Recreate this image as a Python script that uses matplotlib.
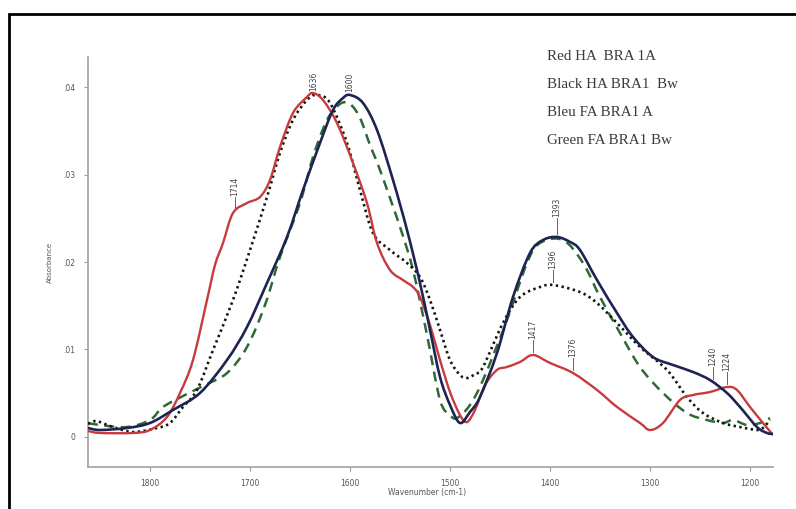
import numpy as np
import matplotlib
matplotlib.use("Agg")
import matplotlib.pyplot as plt
from matplotlib.patches import Rectangle, PathPatch
from matplotlib.path import Path

# ---------------- data (wavenumber cm-1, absorbance) ----------------
red_wn = [1862, 1850, 1817, 1800, 1783, 1770, 1757, 1743, 1735, 1727, 1717, 1703, 1690, 1680,
          1670, 1657, 1643, 1637, 1627, 1613, 1597, 1583, 1573, 1560, 1547, 1537, 1530, 1520,
          1510, 1500, 1490, 1483, 1475, 1465, 1453, 1443, 1430, 1417, 1400, 1377, 1353, 1333,
          1310, 1300, 1287, 1270, 1257, 1240, 1223, 1213, 1200, 1187, 1177]
red_ab = [0.00069, 0.00046, 0.00046, 0.0008, 0.00229, 0.00503, 0.0088, 0.01566, 0.01966, 0.02217,
          0.0256, 0.02674, 0.02743, 0.02937, 0.03314, 0.03703, 0.03886, 0.03931, 0.03851, 0.03589,
          0.03131, 0.02674, 0.02217, 0.01909, 0.01794, 0.01714, 0.016, 0.0128, 0.0088, 0.00514,
          0.00251, 0.00171, 0.00309, 0.00594, 0.00766, 0.008, 0.00857, 0.00937, 0.00846, 0.00731,
          0.00537, 0.00343, 0.0016, 0.0008, 0.0016, 0.00423, 0.0048, 0.00514, 0.00571, 0.00537,
          0.00343, 0.0016, 0.00023]

blue_wn = [1862, 1850, 1823, 1800, 1777, 1750, 1723, 1703, 1683, 1663, 1647, 1630, 1617, 1607,
           1600, 1587, 1573, 1557, 1543, 1530, 1520, 1510, 1500, 1490, 1480, 1470, 1453, 1437,
           1420, 1407, 1393, 1380, 1370, 1353, 1333, 1317, 1297, 1277, 1257, 1240, 1223, 1210,
           1193, 1183, 1177]
blue_ab = [0.00103, 0.0008, 0.00103, 0.0016, 0.00309, 0.00503, 0.0088, 0.01257, 0.0176, 0.02286,
           0.02823, 0.0336, 0.03737, 0.03874, 0.03909, 0.03817, 0.03509, 0.02937, 0.02366, 0.0176,
           0.01223, 0.00686, 0.00366, 0.0016, 0.00286, 0.00457, 0.0096, 0.016, 0.02103, 0.02251,
           0.02286, 0.02229, 0.02137, 0.01794, 0.01417, 0.01143, 0.00914, 0.00823, 0.00743,
           0.00651, 0.00503, 0.00343, 0.00114, 0.00046, 0.00034]

black_wn = [1862, 1855, 1850, 1837, 1817, 1793, 1780, 1767, 1753, 1737, 1717, 1700, 1683, 1670,
            1657, 1643, 1633, 1620, 1603, 1590, 1577, 1560, 1543, 1530, 1520, 1510, 1500, 1490,
            1483, 1475, 1467, 1447, 1430, 1410, 1397, 1370, 1353, 1333, 1310, 1283, 1263, 1247,
            1227, 1210, 1193, 1187, 1180]
black_ab = [0.00149, 0.00183, 0.00171, 0.00114, 0.00057, 0.00103, 0.0016, 0.00343, 0.00537,
            0.00994, 0.01566, 0.02137, 0.02743, 0.03246, 0.03623, 0.03851, 0.03909, 0.03817,
            0.0336, 0.02823, 0.02331, 0.02137, 0.01989, 0.01829, 0.01566, 0.01223, 0.0088,
            0.00709, 0.00674, 0.0072, 0.008, 0.01303, 0.016, 0.01714, 0.01737, 0.01657, 0.01531,
            0.01303, 0.01029, 0.00766, 0.00457, 0.00274, 0.0016, 0.00114, 0.0008, 0.00103, 0.00194]

green_wn = [1862, 1850, 1823, 1800, 1787, 1765, 1745, 1723, 1703, 1685, 1670, 1650, 1637, 1623,
            1610, 1600, 1590, 1580, 1570, 1550, 1537, 1523, 1510, 1500, 1493, 1480, 1467, 1443,
            1423, 1410, 1387, 1367, 1350, 1330, 1310, 1287, 1263, 1243, 1227, 1217, 1203, 1190, 1180]
green_ab = [0.0016, 0.00137, 0.00114, 0.00194, 0.00343, 0.0048, 0.00594, 0.00731, 0.01029,
            0.01509, 0.02057, 0.02674, 0.032, 0.03623, 0.03806, 0.03806, 0.03646, 0.03337,
            0.03051, 0.024, 0.01909, 0.01166, 0.00423, 0.00251, 0.00217, 0.00366, 0.00651,
            0.01337, 0.01989, 0.02217, 0.02251, 0.01989, 0.016, 0.01189, 0.008, 0.00503,
            0.00274, 0.00194, 0.0016, 0.00194, 0.00137, 0.0016, 0.00217]

legend_lines = ["Red HA  BRA 1A", "Black HA BRA1  Bw", "Bleu FA BRA1 A", "Green FA BRA1 Bw"]

x_ticks = [1800, 1700, 1600, 1500, 1400, 1300, 1200]
y_ticks = [0, 0.01, 0.02, 0.03, 0.04]
y_tick_labels = ["0", ".01", ".02", ".03", ".04"]

# peak labels: (text, wavenumber, series)
peak_labels = [("1714", 1715, "red"), ("1636", 1636, "red"), ("1600", 1600, "blue"),
               ("1393", 1393, "blue"), ("1396", 1397, "black"), ("1417", 1417, "red"),
               ("1376", 1377, "red"), ("1240", 1237, "blue"), ("1224", 1223, "red")]


def smooth_path(xs, ys):
    """Bezier path passing through every read point (Catmull-Rom tangents)."""
    p = np.column_stack([xs, ys]).astype(float)
    n = len(p)
    verts = [p[0]]
    codes = [Path.MOVETO]
    for i in range(n - 1):
        p0 = p[i - 1] if i > 0 else p[i]
        p1, p2 = p[i], p[i + 1]
        p3 = p[i + 2] if i + 2 < n else p[i + 1]
        c1 = p1 + (p2 - p0) / 6.0
        c2 = p2 - (p3 - p1) / 6.0
        verts += [c1, c2, p2]
        codes += [Path.CURVE4] * 3
    return Path(np.array(verts), codes)


# ---------------- figure ----------------
W, H = 796, 509
fig = plt.figure(figsize=(W / 100, H / 100), dpi=100)
fig.patch.set_facecolor("white")

ax = fig.add_axes([88 / W, 1 - 467 / H, (773 - 88) / W, (467 - 57) / H])
ax.set_xlim(1862, 1177)
ax.set_ylim(-0.00343, 0.04343)

series = {
    "red": (red_wn, red_ab),
    "blue": (blue_wn, blue_ab),
    "black": (black_wn, black_ab),
    "green": (green_wn, green_ab),
}
styles = [
    ("green", "#2f6a34", 1.8, (0, (4.0, 2.6)), 3),
    ("black", "#141414", 1.9, (0, (0.9, 1.3)), 4),
    ("red", "#c73a3e", 1.7, "solid", 5),
    ("blue", "#1d2452", 1.9, "solid", 6),
]
for key, col, lw, ls, z in styles:
    xs, ys = series[key]
    ax.add_patch(PathPatch(smooth_path(xs, ys), fill=False, ec=col, lw=lw, ls=ls,
                           zorder=z, capstyle="butt", joinstyle="round"))

for s in ["top", "right"]:
    ax.spines[s].set_visible(False)
for s in ["left", "bottom"]:
    ax.spines[s].set_color("#a8a8a8")
    ax.spines[s].set_linewidth(1.3)

ax.set_xticks(x_ticks)
ax.set_xticklabels([str(t) for t in x_ticks])
ax.set_yticks(y_ticks)
ax.set_yticklabels(y_tick_labels)
ax.tick_params(axis="both", colors="#9a9a9a", labelcolor="#555555", labelsize=5.5,
               length=3, width=0.8, pad=6)

fig.text(427 / W, 1 - 493 / H, "Wavenumber (cm-1)", ha="center", va="center",
         fontsize=5.5, color="#555555")
fig.text(50 / W, 1 - 262 / H, "Absorbance", ha="center", va="center",
         rotation=90, fontsize=5.0, color="#555555")

# peak labels with leader ticks
px_per_ab = 8750.0  # pixel gaps -> data units
for txt, wn, key in peak_labels:
    xs, ys = series[key]
    yv = float(np.interp(wn, xs[::-1], ys[::-1]))
    if txt in ("1636", "1600"):
        gap, line = 2, 0
    elif txt == "1393":
        gap, line = 3, 16
    else:
        gap, line = 3, 12
    y0 = yv + gap / px_per_ab
    y1 = y0 + line / px_per_ab
    if line > 0:
        ax.plot([wn, wn], [y0, y1], color="#666666", lw=0.7, zorder=7)
    ax.text(wn, y1 + 1 / px_per_ab, txt, rotation=90, ha="center", va="bottom",
            fontsize=5.5, color="#444444", zorder=8)

# legend text block
for i, line in enumerate(legend_lines):
    fig.text(547 / W, 1 - (57 + i * 27.7) / H, line, ha="left", va="center",
             fontsize=10.8, family=["Liberation Serif", "DejaVu Serif"], color="#3a3a3a")

# outer frame
fig.patches.append(Rectangle((9 / W, -0.2), 1.2, (1 - 14 / H) + 0.2, transform=fig.transFigure,
                             fill=False, ec="black", lw=2.0, clip_on=False))

fig.savefig("out.png", dpi=100)
